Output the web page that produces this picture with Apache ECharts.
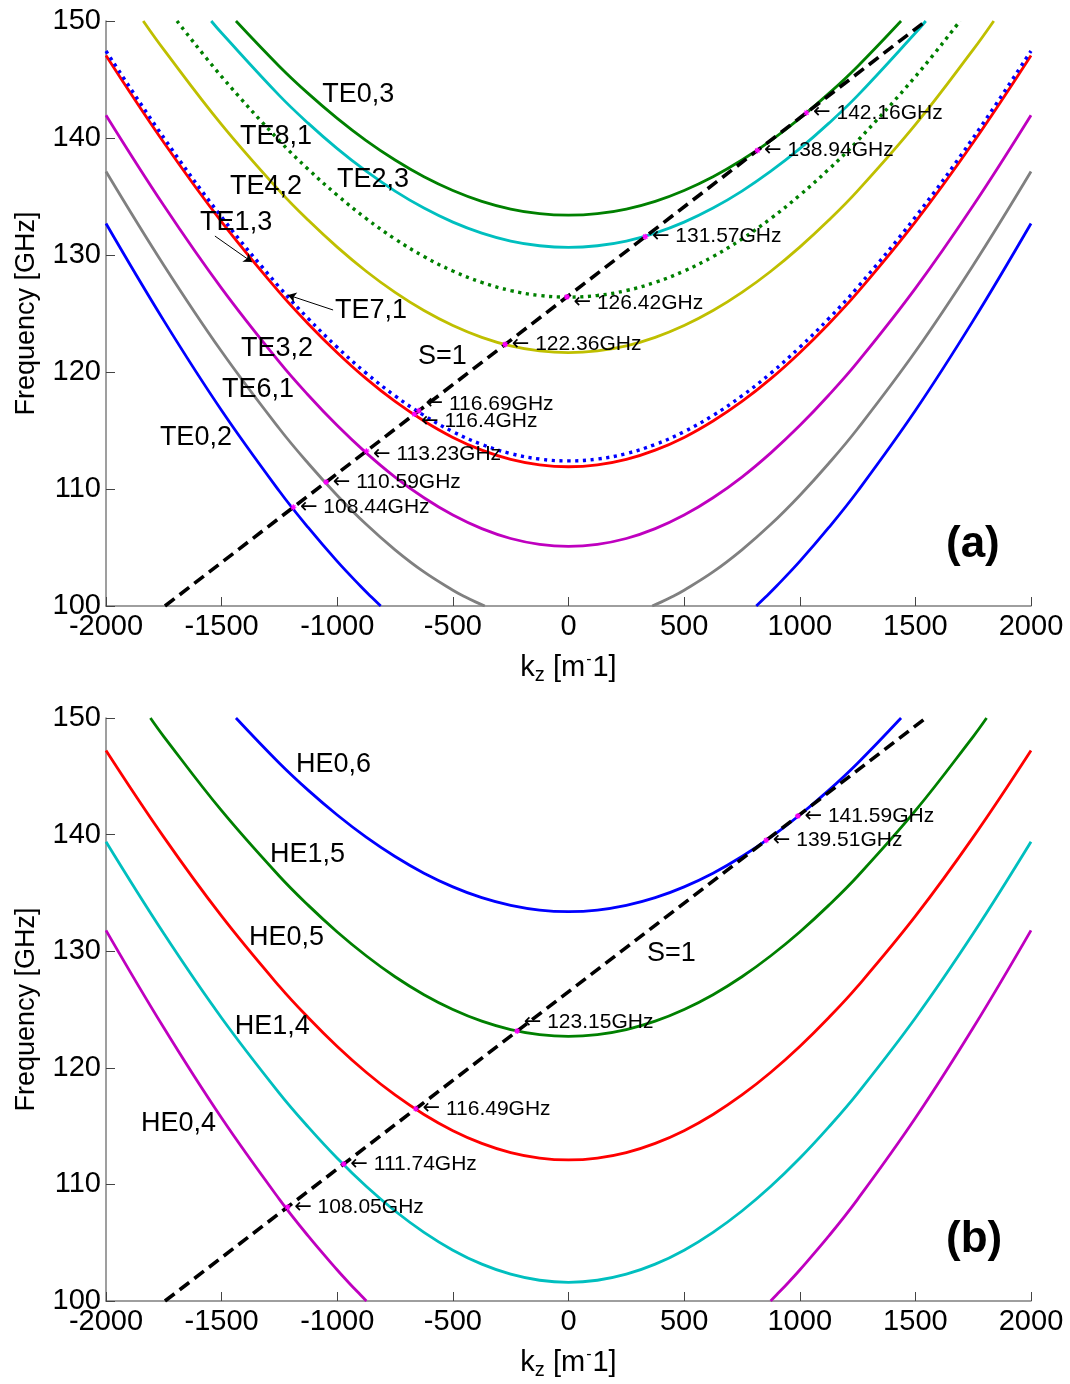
<!DOCTYPE html>
<html>
<head>
<meta charset="utf-8">
<script src="https://cdn.jsdelivr.net/npm/echarts@6.0.0/dist/echarts.min.js"></script>
<style>
  html, body { margin: 0; padding: 0; background: #fff; }
  #chart { width: 1070px; height: 1384px; }
</style>
</head>
<body>
<div id="chart"></div>
<script>
// Dispersion curves: frequency [GHz] versus axial wavenumber kz [1/m].
// Each curve is a list of [kz, f] points; null separates the two branches
// of a curve that dips below the bottom of the frequency range.

// ---- panel (a): TE modes ----
const te03 = [[-1438,150],[-1250,146.12],[-1125,143.79],[-1000,141.68],[-875,139.78],[-750,138.12],[-625,136.69],[-500,135.52],[-375,134.59],[-250,133.93],[-125,133.53],[0,133.4],
              [125,133.53],[250,133.93],[375,134.59],[500,135.52],[625,136.69],[750,138.12],[875,139.78],[1000,141.68],[1125,143.79],[1250,146.12],[1438,150]];
const te23 = [[-1545,150],[-1500,148.97],[-1250,143.62],[-1125,141.25],[-1000,139.09],[-875,137.16],[-750,135.46],[-625,134.01],[-500,132.81],[-375,131.87],[-250,131.19],[-125,130.79],[0,130.65],
              [125,130.79],[250,131.19],[375,131.87],[500,132.81],[625,134.01],[750,135.46],[875,137.16],[1000,139.09],[1125,141.25],[1250,143.62],[1500,148.97],[1545,150]];
const te81 = [[-1693,150],[-1500,145.25],[-1250,139.76],[-1125,137.32],[-1000,135.11],[-875,133.12],[-750,131.37],[-625,129.87],[-500,128.63],[-375,127.66],[-250,126.96],[-125,126.54],[0,126.4],
              [125,126.54],[250,126.96],[375,127.66],[500,128.63],[625,129.87],[750,131.37],[875,133.12],[1000,135.11],[1125,137.32],[1250,139.76],[1500,145.25],[1693,150]];
const te42 = [[-1839,150],[-1750,147.55],[-1500,141.14],[-1250,135.48],[-1125,132.96],[-1000,130.67],[-875,128.61],[-750,126.80],[-625,125.25],[-500,123.97],[-375,122.96],[-250,122.23],[-125,121.80],[0,121.65],
              [125,121.80],[250,122.23],[375,122.96],[500,123.97],[625,125.25],[750,126.80],[875,128.61],[1000,130.67],[1125,132.96],[1250,135.48],[1500,141.14],[1750,147.55],[1839,150]];
const te71 = [[-2000,147.44],[-1750,140.02],[-1500,133.25],[-1250,127.24],[-1125,124.56],[-1000,122.11],[-875,119.90],[-750,117.96],[-625,116.29],[-500,114.90],[-375,113.81],[-250,113.03],[-125,112.56],[0,112.4],
              [125,112.56],[250,113.03],[375,113.81],[500,114.90],[625,116.29],[750,117.96],[875,119.90],[1000,122.11],[1125,124.56],[1250,127.24],[1500,133.25],[1750,140.02],[2000,147.44]];
const te13 = [[-2000,147.06],[-1750,139.62],[-1500,132.83],[-1250,126.80],[-1125,124.11],[-1000,121.65],[-875,119.43],[-750,117.48],[-625,115.81],[-500,114.41],[-375,113.32],[-250,112.53],[-125,112.06],[0,111.9],
              [125,112.06],[250,112.53],[375,113.32],[500,114.41],[625,115.81],[750,117.48],[875,119.43],[1000,121.65],[1125,124.11],[1250,126.80],[1500,132.83],[1750,139.62],[2000,147.06]];
const te32 = [[-2000,141.95],[-1750,134.23],[-1500,127.15],[-1250,120.84],[-1125,118.01],[-1000,115.42],[-875,113.09],[-750,111.02],[-625,109.25],[-500,107.77],[-375,106.61],[-250,105.77],[-125,105.27],[0,105.1],
              [125,105.27],[250,105.77],[375,106.61],[500,107.77],[625,109.25],[750,111.02],[875,113.09],[1000,115.42],[1125,118.01],[1250,120.84],[1500,127.15],[1750,134.23],[2000,141.95]];
const te61 = [[-2000,137.14],[-1750,129.13],[-1500,121.75],[-1250,115.15],[-1125,112.18],[-1000,109.45],[-875,106.98],[-750,104.80],[-625,102.91],[-500,101.35],[-450,100.81],[-400,100.33],[-362,100], null,
              [362,100],[400,100.33],[450,100.81],[500,101.35],[625,102.91],[750,104.80],[875,106.98],[1000,109.45],[1125,112.18],[1250,115.15],[1500,121.75],[1750,129.13],[2000,137.14]];
const te02 = [[-2000,132.69],[-1750,124.39],[-1500,116.71],[-1250,109.81],[-1125,106.69],[-1000,103.81],[-900,101.71],[-850,100.72],[-812,100], null,
              [812,100],[850,100.72],[900,101.71],[1000,103.81],[1125,106.69],[1250,109.81],[1500,116.71],[1750,124.39],[2000,132.69]];

// ---- panel (b): HE modes ----
const he06 = [[-1438,150],[-1250,146.12],[-1125,143.79],[-1000,141.68],[-875,139.78],[-750,138.12],[-625,136.69],[-500,135.52],[-375,134.59],[-250,133.93],[-125,133.53],[0,133.4],
              [125,133.53],[250,133.93],[375,134.59],[500,135.52],[625,136.69],[750,138.12],[875,139.78],[1000,141.68],[1125,143.79],[1250,146.12],[1438,150]];
const he15 = [[-1808,150],[-1750,148.41],[-1500,142.05],[-1250,136.43],[-1125,133.93],[-1000,131.65],[-875,129.61],[-750,127.81],[-625,126.27],[-500,125.00],[-375,124.00],[-250,123.28],[-125,122.85],[0,122.7],
              [125,122.85],[250,123.28],[375,124.00],[500,125.00],[625,126.27],[750,127.81],[875,129.61],[1000,131.65],[1125,133.93],[1250,136.43],[1500,142.05],[1750,148.41],[1808,150]];
const he05 = [[-2000,147.21],[-1750,139.78],[-1500,133.00],[-1250,126.98],[-1125,124.29],[-1000,121.83],[-875,119.62],[-750,117.67],[-625,116.00],[-500,114.61],[-375,113.52],[-250,112.73],[-125,112.26],[0,112.1],
              [125,112.26],[250,112.73],[375,113.52],[500,114.61],[625,116.00],[750,117.67],[875,119.62],[1000,121.83],[1125,124.29],[1250,126.98],[1500,133.00],[1750,139.78],[2000,147.21]];
const he14 = [[-2000,139.38],[-1750,131.51],[-1500,124.27],[-1250,117.81],[-1125,114.91],[-1000,112.24],[-875,109.84],[-750,107.72],[-625,105.89],[-500,104.36],[-375,103.16],[-250,102.30],[-125,101.78],[0,101.6],
              [125,101.78],[250,102.30],[375,103.16],[500,104.36],[625,105.89],[750,107.72],[875,109.84],[1000,112.24],[1125,114.91],[1250,117.81],[1500,124.27],[1750,131.51],[2000,139.38]];
const he04 = [[-2000,131.79],[-1750,123.43],[-1500,115.69],[-1250,108.72],[-1125,105.56],[-1000,102.66],[-950,101.57],[-900,100.53],[-874,100], null,
              [874,100],[900,100.53],[950,101.57],[1000,102.66],[1125,105.56],[1250,108.72],[1500,115.69],[1750,123.43],[2000,131.79]];

// Beam line S=1 (same in both panels)
const beamLine = [[-1745,100],[1545,150]];

// Crossing points of the beam line with the modes: frequency [GHz] and kz
const crossFreqA = [108.44, 110.59, 113.23, 116.4, 116.69, 122.36, 126.42, 131.57, 138.94, 142.16];
const crossKzA   = [-1190, -1048, -874, -666, -647, -274, -7, 332, 817, 1029];
const crossFreqB = [108.05, 111.74, 116.49, 123.15, 139.51, 141.59];
const crossKzB   = [-1215, -972, -660, -222, 855, 992];

// Mode names
const modeNamesA = ['TE0,3', 'TE8,1', 'TE2,3', 'TE4,2', 'TE1,3', 'TE7,1', 'S=1', 'TE3,2', 'TE6,1', 'TE0,2'];
const modeNamesB = ['HE0,6', 'HE1,5', 'HE0,5', 'HE1,4', 'HE0,4', 'S=1'];

// Tick values
const kzTicks = { min: -2000, max: 2000, step: 500 };
const fTicks  = { min: 100, max: 150, step: 10 };

// ---------------- layout / styling ----------------
const FONT = '"Liberation Sans", Arial, Helvetica, sans-serif';

// where the mode names sit, in axis units [kz, f] (text starts here, vertically centred)
const namePlaceA = [[-1065,143.68],[-1421,140.09],[-1001,136.41],[-1464,135.81],[-1593,132.74],[-1010,125.21],[-651,121.28],[-1416,121.97],[-1498,118.46],[-1767,114.44]];
const namePlaceB = [[-1178,145.97],[-1291,138.25],[-1382,131.13],[-1443,123.5],[-1849,115.18],[339,129.76]];
// leader arrows from names to the curves they point at
const leadersA = [
  [[-1529,131.62],[-1369,129.40]],
  [[-1018,125.30],[-1213,126.58]]
];
// vertical nudge (px) of a few crossing labels
const crossNudgeA = { 2: 3, 3: 7, 4: -7, 6: 6 };
const crossNudgeB = { 3: -9 };

const C = {
  blue: '#0000ff', gray: '#808080', magenta: '#bf00bf', red: '#ff0000',
  olive: '#bfbf00', green: '#008000', cyan: '#00bfbf'
};

function branches(points) {
  const out = [[]];
  points.forEach(p => { if (p === null) out.push([]); else out[out.length - 1].push(p); });
  return out;
}

function curve(points, color, dotted, panel, z) {
  return branches(points).map(b => ({
    type: 'line', xAxisIndex: panel, yAxisIndex: panel, data: b,
    showSymbol: false, smooth: 0.4, silent: true, z: z || 2,
    lineStyle: dotted
      ? { color: color, width: 3.4, type: [3.2, 4.6], cap: 'butt' }
      : { color: color, width: 2.8, type: 'solid' }
  }));
}

function beam(panel) {
  return {
    type: 'line', xAxisIndex: panel, yAxisIndex: panel, data: beamLine,
    showSymbol: false, silent: true, z: 4,
    lineStyle: { color: '#000', width: 3.6, type: [12, 6.5], cap: 'butt' }
  };
}

function crossings(freqs, kzs, nudge, panel) {
  return {
    type: 'scatter', xAxisIndex: panel, yAxisIndex: panel, z: 6, silent: true,
    symbol: 'path://M5,0L5,10M0,5L10,5M1.5,1.5L8.5,8.5M1.5,8.5L8.5,1.5',
    symbolSize: 6,
    itemStyle: { color: '#ff00ff', borderColor: '#ff00ff', borderWidth: 1.2, opacity: 1 },
    data: freqs.map((f, i) => ({
      value: [kzs[i], f],
      label: { offset: [0, nudge[i] || 0] }
    })),
    label: {
      show: true, position: 'right', distance: 3, opacity: 1,
      color: '#000', fontFamily: FONT, fontSize: 21, textBorderWidth: 0,
      formatter: p => '{a|\u2190} ' + p.value[1] + 'GHz',
      rich: {
        a: { fontFamily: '"DejaVu Sans", sans-serif', fontSize: 21, color: '#000' }
      }
    }
  };
}

function names(list, place, panel) {
  return {
    type: 'scatter', xAxisIndex: panel, yAxisIndex: panel, z: 7, silent: true,
    symbolSize: 0,
    itemStyle: { opacity: 1 },
    data: list.map((n, i) => ({ name: n, value: place[i] })),
    label: {
      show: true, position: 'right', distance: 0, opacity: 1,
      color: '#000', fontFamily: FONT, fontSize: 27, textBorderWidth: 0,
      formatter: '{b}'
    }
  };
}

function xAxis(panel) {
  return {
    type: 'value', gridIndex: panel,
    min: kzTicks.min, max: kzTicks.max, interval: kzTicks.step,
    axisLine: { show: true, onZero: false, lineStyle: { color: '#7f7f7f', width: 1.5 } },
    axisTick: { show: true, inside: true, length: 9, lineStyle: { color: '#444', width: 1 } },
    axisLabel: { color: '#000', fontFamily: FONT, fontSize: 29, margin: 6, formatter: v => String(v) },
    splitLine: { show: false },
    name: '{k|k}{s|z}{n| [m}{p|-}{n|1]}',
    nameLocation: 'middle', nameGap: 45, nameMoveOverlap: false,
    nameTextStyle: {
      fontFamily: FONT, color: '#000',
      rich: {
        k: { fontSize: 29, fontFamily: FONT, color: '#000' },
        s: { fontSize: 20, fontFamily: FONT, color: '#000', padding: [14, 0, 0, 0] },
        n: { fontSize: 29, fontFamily: FONT, color: '#000' },
        p: { fontSize: 16, fontFamily: FONT, color: '#000', padding: [0, 1, 16, 1] }
      }
    }
  };
}

function yAxis(panel) {
  return {
    type: 'value', gridIndex: panel,
    min: fTicks.min, max: fTicks.max, interval: fTicks.step,
    axisLine: { show: true, onZero: false, lineStyle: { color: '#7f7f7f', width: 1.5 } },
    axisTick: { show: true, inside: true, length: 9, lineStyle: { color: '#444', width: 1 } },
    axisLabel: { color: '#000', fontFamily: FONT, fontSize: 29, margin: 5, formatter: v => String(v) },
    splitLine: { show: false },
    name: 'Frequency [GHz]',
    nameLocation: 'middle', nameGap: 66, nameRotate: 90, nameMoveOverlap: false,
    nameTextStyle: { fontFamily: FONT, fontSize: 27, color: '#000' }
  };
}

function leaders(list, panel) {
  return {
    type: 'lines', coordinateSystem: 'cartesian2d', xAxisIndex: panel, yAxisIndex: panel,
    silent: true, z: 5,
    symbol: ['none', 'arrow'], symbolSize: 8,
    lineStyle: { color: '#000', width: 1, opacity: 1, curveness: 0 },
    data: list.map(c => ({ coords: c }))
  };
}

const series = [].concat(
  // panel (a)
  curve(te02, C.blue, false, 0),
  curve(te61, C.gray, false, 0),
  curve(te32, C.magenta, false, 0),
  curve(te13, C.red, false, 0),
  curve(te71, C.blue, true, 0, 3),
  curve(te42, C.olive, false, 0),
  curve(te81, C.green, true, 0),
  curve(te23, C.cyan, false, 0),
  curve(te03, C.green, false, 0),
  [beam(0), crossings(crossFreqA, crossKzA, crossNudgeA, 0), names(modeNamesA, namePlaceA, 0), leaders(leadersA, 0)],
  // panel (b)
  curve(he04, C.magenta, false, 1),
  curve(he14, C.cyan, false, 1),
  curve(he05, C.red, false, 1),
  curve(he15, C.green, false, 1),
  curve(he06, C.blue, false, 1),
  [beam(1), crossings(crossFreqB, crossKzB, crossNudgeB, 1), names(modeNamesB, namePlaceB, 1)]
);

const chart = echarts.init(document.getElementById('chart'), null, { renderer: 'canvas' });
chart.setOption({
  animation: false,
  backgroundColor: '#fff',
  grid: [
    { left: 106, top: 21, width: 925, height: 585 },
    { left: 106, top: 718, width: 925, height: 583 }
  ],
  xAxis: [xAxis(0), xAxis(1)],
  yAxis: [yAxis(0), yAxis(1)],
  graphic: [
    { type: 'text', left: 946, top: 523, style: { text: '(a)', font: 'bold 44px ' + FONT, fill: '#000' } },
    { type: 'text', left: 946, top: 1218, style: { text: '(b)', font: 'bold 44px ' + FONT, fill: '#000' } }
  ],
  series: series
});
</script>
</body>
</html>
